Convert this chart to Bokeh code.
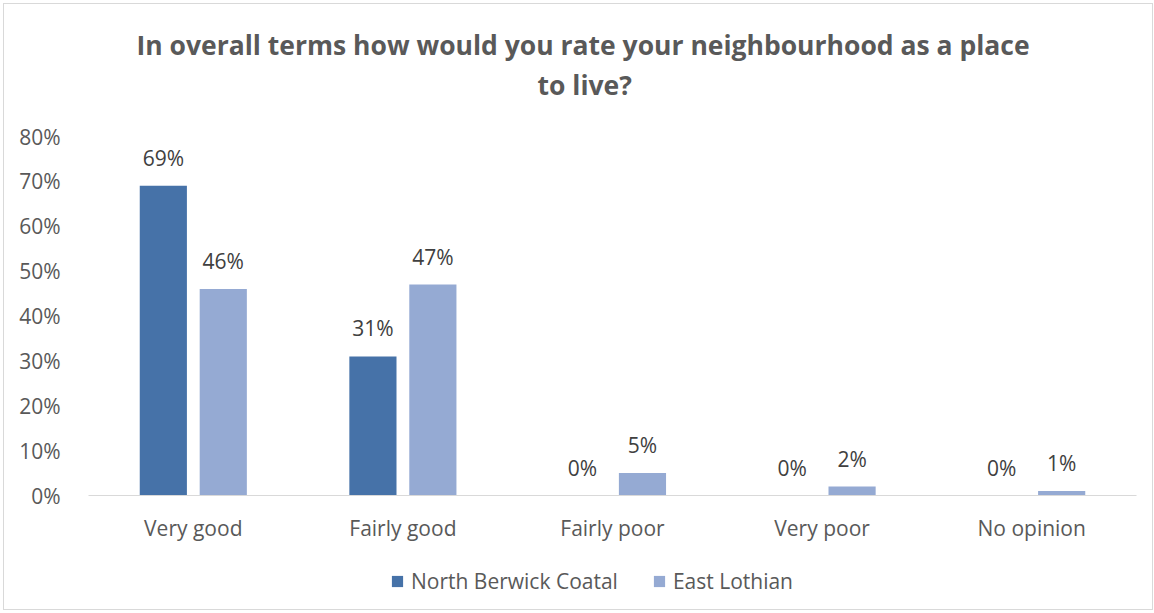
from bokeh.plotting import figure
from bokeh.layouts import column
from bokeh.models import (ColumnDataSource, FactorRange, LabelSet, Legend, LegendItem,
                          Title, NumeralTickFormatter, FixedTicker, Range1d)
from bokeh.core.properties import value
from bokeh.transform import dodge
from bokeh.embed import file_html
from bokeh.resources import INLINE

categories = ["Very good", "Fairly good", "Fairly poor", "Very poor", "No opinion"]
north_berwick = [0.69, 0.31, 0.0, 0.0, 0.0]
east_lothian = [0.46, 0.47, 0.05, 0.02, 0.01]
series_names = ["North Berwick Coatal", "East Lothian"]
y_ticks = [0, 0.1, 0.2, 0.3, 0.4, 0.5, 0.6, 0.7, 0.8]
title_line1 = "In overall terms how would you rate your neighbourhood as a place"
title_line2 = "to live?"

DARK = "#4672a8"
LIGHT = "#95aad3"
FONT = "Open Sans"
FS = "21px"

src = ColumnDataSource(dict(
    cat=categories,
    nb=north_berwick,
    el=east_lothian,
    nb_lab=[f"{round(v*100)}%" for v in north_berwick],
    el_lab=[f"{round(v*100)}%" for v in east_lothian],
))

W = 1148
p = figure(x_range=FactorRange(*categories), y_range=(0, 0.8),
           width=W, height=549, output_backend="svg", toolbar_location=None,
           min_border_left=84, min_border_right=16, min_border_top=132,
           min_border_bottom=58)
p.title.visible = False
p.outline_line_color = None
p.background_fill_color = "white"
p.border_fill_color = "white"

off = 0.143
w = 0.225
p.vbar(x=dodge("cat", -off, range=p.x_range), top="nb", width=w, source=src,
       fill_color=DARK, line_color=None)
p.vbar(x=dodge("cat", off, range=p.x_range), top="el", width=w, source=src,
       fill_color=LIGHT, line_color=None)

for col, lab, o in (("nb", "nb_lab", -off), ("el", "el_lab", off)):
    ls = LabelSet(x=dodge("cat", o, range=p.x_range), y=col, text=lab, source=src,
                  text_align="center", text_baseline="bottom", y_offset=14,
                  text_font=value(FONT), text_font_size=value(FS), text_color="#404040")
    p.add_layout(ls)

p.xgrid.grid_line_color = None
p.ygrid.grid_line_color = None

p.yaxis.ticker = FixedTicker(ticks=y_ticks)
p.yaxis.formatter = NumeralTickFormatter(format="0%")
p.yaxis.axis_line_color = None
p.yaxis.major_tick_line_color = None
p.yaxis.minor_tick_line_color = None
p.yaxis.major_label_text_font = FONT
p.yaxis.major_label_text_font_size = FS
p.yaxis.major_label_text_color = "#595959"
p.yaxis.major_label_standoff = 22

p.xaxis.axis_line_color = "#d9d9d9"
p.xaxis.axis_line_width = 1
p.xaxis.major_tick_line_color = None
p.xaxis.minor_tick_line_color = None
p.xaxis.major_label_text_font = FONT
p.xaxis.major_label_text_font_size = FS
p.xaxis.major_label_text_color = "#595959"
p.xaxis.major_label_standoff = 12

title_style = dict(align="left", text_font=FONT, text_font_size="26.5px",
                   text_font_style="bold", text_color="#595959")
spacer = Title(text=" ", align="left", text_font=FONT, text_font_size="10px", standoff=17)
t2 = Title(text=title_line2, standoff=2, offset=449, **title_style)
t1 = Title(text=title_line1, standoff=2, offset=48, **title_style)
p.add_layout(spacer, "above")
p.add_layout(t2, "above")
p.add_layout(t1, "above")

# legend strip
lg = figure(x_range=FactorRange(*categories), y_range=Range1d(2, 3),
            width=W, height=56, output_backend="svg", toolbar_location=None,
            min_border=0)
lg.axis.visible = False
lg.grid.visible = False
lg.outline_line_color = None
lg.title.visible = False
l1 = lg.vbar(x=dodge("cat", -off, range=lg.x_range), top="nb", width=w, source=src,
             fill_color=DARK, line_color=None)
l2 = lg.vbar(x=dodge("cat", off, range=lg.x_range), top="el", width=w, source=src,
             fill_color=LIGHT, line_color=None)
legend = Legend(items=[LegendItem(label=series_names[0], renderers=[l1]),
                       LegendItem(label=series_names[1], renderers=[l2])],
                orientation="horizontal", location=(302, 14),
                label_text_font=FONT, label_text_font_size=FS,
                label_text_color="#595959", glyph_width=14, glyph_height=14,
                spacing=34, border_line_color=None, background_fill_alpha=0,
                margin=0, padding=4, label_standoff=7)
lg.add_layout(legend)

layout = column(p, lg, spacing=0)
layout.styles = {"border": "1px solid #d9d9d9", "margin-left": "3px", "margin-top": "3px"}

open("out.html", "w").write(file_html(layout, INLINE))
